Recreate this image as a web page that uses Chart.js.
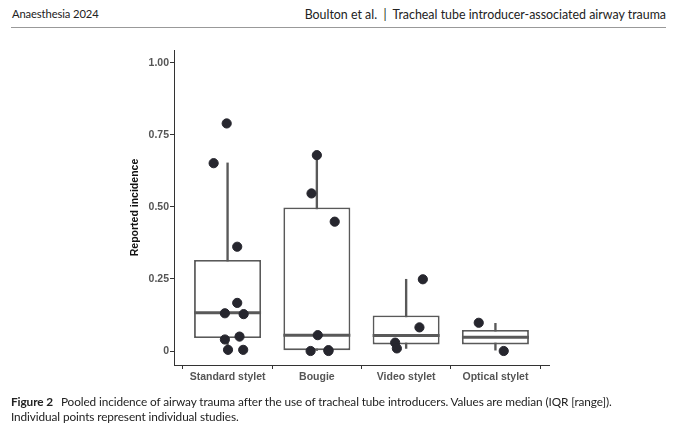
<!DOCTYPE html>
<html>
<head>
<meta charset="utf-8">
<script src="https://cdn.jsdelivr.net/npm/chart.js@4.4.1/dist/chart.umd.min.js"></script>
<style>
  html, body { margin: 0; padding: 0; background: #fff; }
  #wrap { position: relative; width: 680px; height: 434px; overflow: hidden; }
  #chart { position: absolute; left: 0; top: 0; }
  .hdr { position: absolute; top: 7px; font-family: Lato, "Open Sans", sans-serif; color: #222; white-space: nowrap; }
  #rule { position: absolute; left: 11px; top: 27px; width: 655px; height: 1px; background: #999; }
  #caption { position: absolute; left: 11px; top: 394px; font-family: Lato, "Open Sans", sans-serif; font-size: 11.8px; line-height: 15px; color: #222; letter-spacing: -0.1px; }
  #caption b { font-weight: 700; margin-right: 5px; }
</style>
</head>
<body>
<div id="wrap">
  <div class="hdr" style="left:12px; font-size:11.2px; letter-spacing:-0.1px">Anaesthesia 2024</div>
  <div class="hdr" style="right:14px; font-size:12.4px">Boulton et al. &nbsp;|&nbsp; Tracheal tube introducer-associated airway trauma</div>
  <div id="rule"></div>
  <canvas id="chart" width="680" height="434"></canvas>
  <div id="caption"><b>Figure 2</b> Pooled incidence of airway trauma after the use of tracheal tube introducers. Values are median (IQR [range]).<br>Individual points represent individual studies.</div>
</div>
<script>
const categories = ['Standard stylet', 'Bougie', 'Video stylet', 'Optical stylet'];
const q1 = [0.045, 0.003, 0.023, 0.023];
const medians = [0.133, 0.055, 0.054, 0.048];
const q3 = [0.316, 0.498, 0.123, 0.073];
const whiskerLow = [0.005, 0.0, 0.009, 0.003];
const whiskerHigh = [0.653, 0.68, 0.249, 0.096];
const yTicks = [0, 0.25, 0.5, 0.75, 1.0];

// individual studies: group index, horizontal jitter, reported incidence
const studyGroup = [0, 0, 0, 0, 0, 0, 0, 0, 0, 0, 1, 1, 1, 1, 1, 1, 1, 2, 2, 2, 2, 3, 3];
const studyJitter = [-0.01, -0.156, 0.108, 0.108, -0.03, 0.18, -0.03, 0.134, 0.005, 0.175,
  0.0, -0.06, 0.2, 0.01, -0.07, 0.13, 0.13, 0.187, 0.149, -0.123, -0.104, -0.187, 0.093];
const studyValue = [0.79, 0.652, 0.362, 0.167, 0.131, 0.128, 0.04, 0.05, 0.004, 0.004,
  0.68, 0.547, 0.449, 0.055, 0.0, 0.003, 0.0, 0.249, 0.082, 0.029, 0.009, 0.098, 0.0];

const boxColor = '#595959';
const pointColor = '#26262e';
const tickFont = { family: 'Liberation Sans, Arial, sans-serif', size: 10.5, weight: 'bold' };

const boxData = categories.map((c, i) => ({ x: i + 1, y: [q1[i], q3[i]] }));
const whiskerData = categories.map((c, i) => ({ x: i + 1, y: [whiskerLow[i], whiskerHigh[i]] }));
const pointData = studyValue.map((v, i) => ({ x: studyGroup[i] + 1 + studyJitter[i], y: v }));

const medianPlugin = {
  id: 'medianLines',
  afterDatasetDraw(chart, args) {
    if (args.index !== 1) return;
    const ctx = chart.ctx;
    const meta = chart.getDatasetMeta(1);
    const ys = chart.scales.y;
    ctx.save();
    ctx.strokeStyle = boxColor;
    ctx.lineWidth = 3;
    meta.data.forEach((bar, i) => {
      const half = bar.width / 2;
      const py = ys.getPixelForValue(medians[i]);
      ctx.beginPath();
      ctx.moveTo(bar.x - half, py);
      ctx.lineTo(bar.x + half, py);
      ctx.stroke();
    });
    ctx.restore();
  }
};

new Chart(document.getElementById('chart'), {
  data: {
    datasets: [
      {
        type: 'bar',
        data: whiskerData,
        backgroundColor: boxColor,
        borderWidth: 0,
        barThickness: 1.7,
        grouped: false,
        order: 3
      },
      {
        type: 'bar',
        data: boxData,
        backgroundColor: '#ffffff',
        borderColor: boxColor,
        borderWidth: 1.8,
        borderSkipped: false,
        barPercentage: 0.75,
        categoryPercentage: 1,
        grouped: false,
        order: 2
      },
      {
        type: 'scatter',
        data: pointData,
        backgroundColor: pointColor,
        borderColor: pointColor,
        pointRadius: 4.6,
        pointHoverRadius: 4.6,
        order: 1
      }
    ]
  },
  options: {
    responsive: false,
    animation: false,
    events: [],
    layout: { padding: { left: 129, top: 50, right: 131, bottom: 0 } },
    plugins: { legend: { display: false }, tooltip: { enabled: false } },
    scales: {
      x: {
        type: 'linear',
        min: 0.4,
        max: 4.6,
        offset: false,
        afterBuildTicks(scale) { scale.ticks = categories.map((c, i) => ({ value: i + 1 })); },
        afterFit(scale) { scale.height = 69; },
        ticks: {
          callback: v => categories[v - 1],
          color: '#555555',
          font: tickFont,
          padding: 2,
          maxRotation: 0,
          autoSkip: false
        },
        grid: { display: true, drawOnChartArea: false, drawTicks: true, tickLength: 4, color: '#333333', lineWidth: 1 },
        border: { display: true, color: '#333333', width: 1 }
      },
      y: {
        type: 'linear',
        min: -0.0486,
        max: 1.045,
        afterBuildTicks(scale) { scale.ticks = yTicks.map(v => ({ value: v })); },
        afterFit(scale) { scale.width = 45; },
        ticks: {
          callback: v => (v === 0 ? '0' : v.toFixed(2)),
          color: '#555555',
          font: tickFont,
          padding: 1
        },
        grid: { display: true, drawOnChartArea: false, drawTicks: true, tickLength: 4, color: '#333333', lineWidth: 1 },
        border: { display: true, color: '#333333', width: 1 },
        title: {
          display: true,
          text: 'Reported incidence',
          color: '#111111',
          font: { family: 'Liberation Sans, Arial, sans-serif', size: 10.5, weight: 'bold' },
          padding: { top: 0, bottom: 0 }
        }
      }
    }
  },
  plugins: [medianPlugin]
});
</script>
</body>
</html>
